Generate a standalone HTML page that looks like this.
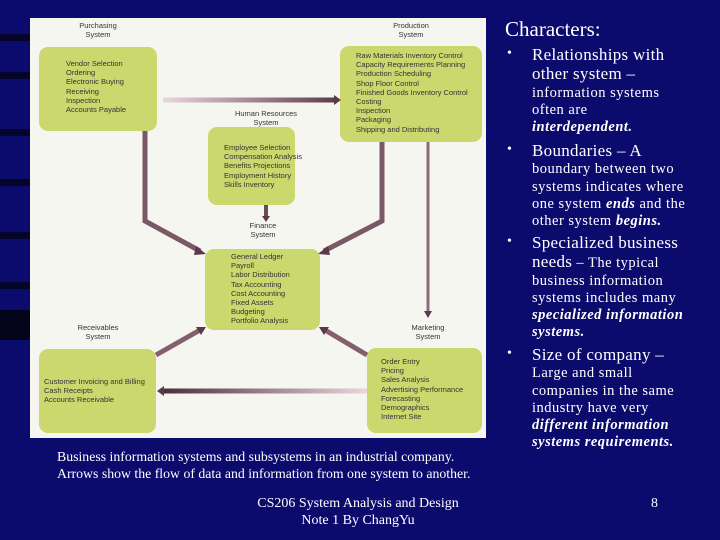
<!DOCTYPE html>
<html><head><meta charset="utf-8"><style>
body{margin:0;width:720px;height:540px;overflow:hidden;background:#0b0b6e;position:relative;font-family:"Liberation Serif",serif;color:#fff}
.s{position:absolute;left:0;width:30px;height:7px;background:#05052a}
#panel{position:absolute;left:30px;top:18px;width:456px;height:420px;background:#f6f6f1}
.b{position:absolute;background:#cbd86e;border-radius:9px}
.t{position:absolute;font-family:"Liberation Sans",sans-serif;font-size:7.5px;line-height:9.2px;color:#333;white-space:nowrap}
.c{text-align:center}
.r{position:absolute;white-space:nowrap;font-size:14.5px;line-height:17.3px;letter-spacing:0.5px}
.big{font-size:17px;letter-spacing:0.3px}
.bu{position:absolute;left:507px;font-size:14px}
</style></head><body>
<div class="s" style="top:34px"></div><div class="s" style="top:72px"></div><div class="s" style="top:129px"></div><div class="s" style="top:179px"></div><div class="s" style="top:232px"></div><div class="s" style="top:282px"></div>
<div class="s" style="top:310px;height:30px;background:#03031a"></div>
<div id="panel"></div>
<div class="b" style="left:39px;top:47px;width:118px;height:84px"></div>
<div class="b" style="left:340px;top:46px;width:142px;height:96px"></div>
<div class="b" style="left:208px;top:127px;width:87px;height:78px"></div>
<div class="b" style="left:205px;top:249px;width:115px;height:81px"></div>
<div class="b" style="left:39px;top:349px;width:117px;height:84px"></div>
<div class="b" style="left:367px;top:348px;width:115px;height:85px"></div>
<svg style="position:absolute;left:0;top:0" width="720" height="540">
<defs>
<linearGradient id="gr" gradientUnits="userSpaceOnUse" x1="163" y1="0" x2="334" y2="0"><stop offset="0" stop-color="#ecd6de"/><stop offset="1" stop-color="#5e3d4c"/></linearGradient>
<linearGradient id="gl" gradientUnits="userSpaceOnUse" x1="367" y1="0" x2="164" y2="0"><stop offset="0" stop-color="#ecd6de"/><stop offset="1" stop-color="#4e2e3c"/></linearGradient>
</defs>
<g fill="none" stroke-width="5">
<line x1="163" y1="100" x2="334" y2="100" stroke="url(#gr)"/>
<line x1="367" y1="391" x2="164" y2="391" stroke="url(#gl)"/>
<polyline points="145,131 145,221 200,251" stroke="#7a5866"/>
<polyline points="382,142 382,221 324,251" stroke="#7a5866"/>
<line x1="428" y1="142" x2="428" y2="311" stroke="#8d6b78" stroke-width="3"/>
<line x1="266" y1="205" x2="266" y2="216" stroke="#6a4a58" stroke-width="4"/>
<line x1="156" y1="355" x2="200" y2="330" stroke="#84606e"/>
<line x1="367" y1="355" x2="325" y2="330" stroke="#84606e"/>
</g>
<g fill="#5a3a48">
<polygon points="334,95 341,100 334,105"/>
<polygon points="164,386 157,391 164,396"/>
<polygon points="196,246 206,254 194,255"/>
<polygon points="328,246 318,254 330,255"/>
<polygon points="424,311 428,318 432,311"/>
<polygon points="262,216 266,222 270,216"/>
<polygon points="196,327 206,327 201,335"/>
<polygon points="329,327 319,327 324,335"/>
</g>
</svg>
<div class="t c" style="left:63px;top:21px;width:70px">Purchasing<br>System</div>
<div class="t c" style="left:376px;top:21px;width:70px">Production<br>System</div>
<div class="t c" style="left:221px;top:109px;width:90px">Human Resources<br>System</div>
<div class="t c" style="left:228px;top:221px;width:70px">Finance<br>System</div>
<div class="t c" style="left:63px;top:323px;width:70px">Receivables<br>System</div>
<div class="t c" style="left:393px;top:323px;width:70px">Marketing<br>System</div>
<div class="t" style="left:66px;top:59px">Vendor Selection<br>Ordering<br>Electronic Buying<br>Receiving<br>Inspection<br>Accounts Payable</div>
<div class="t" style="left:356px;top:51px">Raw Materials Inventory Control<br>Capacity Requirements Planning<br>Production Scheduling<br>Shop Floor Control<br>Finished Goods Inventory Control<br>Costing<br>Inspection<br>Packaging<br>Shipping and Distributing</div>
<div class="t" style="left:224px;top:143px">Employee Selection<br>Compensation Analysis<br>Benefits Projections<br>Employment History<br>Skills Inventory</div>
<div class="t" style="left:231px;top:252px">General Ledger<br>Payroll<br>Labor Distribution<br>Tax Accounting<br>Cost Accounting<br>Fixed Assets<br>Budgeting<br>Portfolio Analysis</div>
<div class="t" style="left:44px;top:377px">Customer Invoicing and Billing<br>Cash Receipts<br>Accounts Receivable</div>
<div class="t" style="left:381px;top:357px">Order Entry<br>Pricing<br>Sales Analysis<br>Advertising Performance<br>Forecasting<br>Demographics<br>Internet Site</div>
<div class="r" style="left:57px;top:448px;font-size:13.8px;line-height:17px;letter-spacing:0">Business information systems and subsystems in an industrial company.<br>Arrows show the flow of data and information from one system to another.</div>
<div class="r" style="left:505px;top:17px;font-size:21px;line-height:24px;letter-spacing:0">Characters:</div>
<div class="bu" style="top:46px">•</div><div class="bu" style="top:142px">•</div><div class="bu" style="top:234px">•</div><div class="bu" style="top:346px">•</div>
<div class="r" style="left:532px;top:46px"><span class="big">Relationships with</span><br><span class="big">other system –</span><br>information systems<br>often are<br><b><i>interdependent.</i></b></div>
<div class="r" style="left:532px;top:142px"><span class="big">Boundaries – A</span><br>boundary between two<br>systems indicates where<br>one system <b><i>ends</i></b> and the<br>other system <b><i>begins.</i></b></div>
<div class="r" style="left:532px;top:234px"><span class="big">Specialized business</span><br><span class="big">needs</span> – The typical<br>business information<br>systems includes many<br><b><i>specialized information</i></b><br><b><i>systems.</i></b></div>
<div class="r" style="left:532px;top:346px"><span class="big">Size of company –</span><br>Large and small<br>companies in the same<br>industry have very<br><b><i>different information</i></b><br><b><i>systems requirements.</i></b></div>
<div class="r c" style="left:230px;top:495px;width:256px;font-size:14px;line-height:17px;letter-spacing:0">CS206 System Analysis and Design<br>Note 1 By ChangYu</div>
<div class="r" style="left:651px;top:495px;font-size:14px;line-height:17px">8</div>
</body></html>
